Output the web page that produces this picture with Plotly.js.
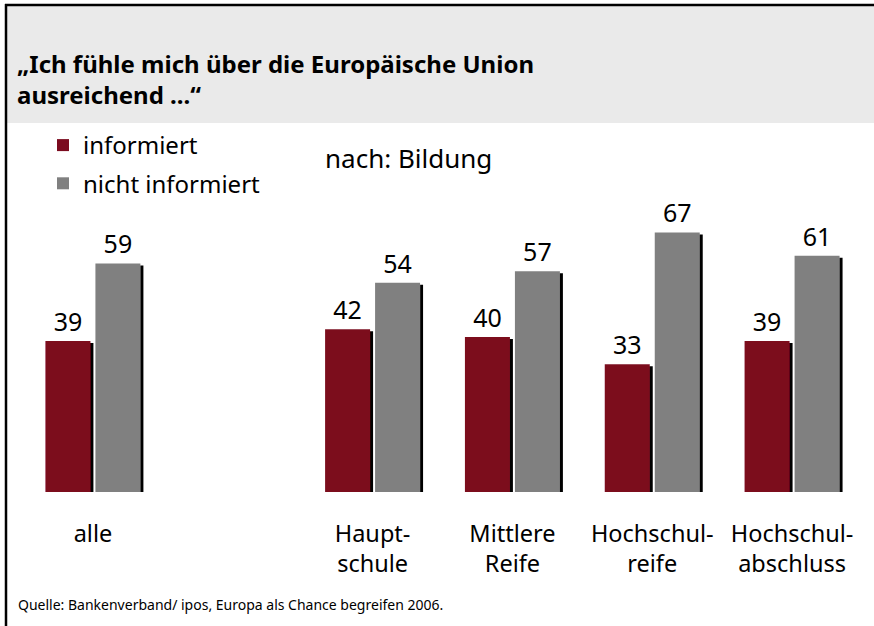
<!DOCTYPE html>
<html>
<head>
<meta charset="utf-8">
<script src="https://cdn.plot.ly/plotly-3.0.1.min.js"></script>
<style>
  html, body { margin: 0; padding: 0; background: #ffffff; }
  #chart { width: 874px; height: 626px; }
</style>
</head>
<body>
<svg width="0" height="0" style="position:absolute">
  <defs>
    <filter id="barshadow" x="-20%" y="-20%" width="140%" height="140%">
      <feDropShadow dx="3" dy="2" stdDeviation="0" flood-color="#000000" flood-opacity="1"/>
    </filter>
  </defs>
</svg>
<div id="chart"></div>
<script>
// ---- data ----
const categories = ['alle', 'Haupt-<br>schule', 'Mittlere<br>Reife', 'Hochschul-<br>reife', 'Hochschul-<br>abschluss'];
const informiert = [39, 42, 40, 33, 39];
const nichtInformiert = [59, 54, 57, 67, 61];
const seriesNames = ['informiert', 'nicht informiert'];

const titleText = '„Ich fühle mich über die Europäische Union<br>ausreichend ...“';
const subtitleText = 'nach: Bildung';
const sourceText = 'Quelle: Bankenverband/ ipos, Europa als Chance begreifen 2006.';

// ---- layout helpers ----
const W = 874, H = 626;
const M = { l: 23, r: 12, t: 182, b: 134 };
const PW = W - M.l - M.r, PH = H - M.t - M.b;
const px = v => (v - M.l) / PW;          // pixel x -> paper x
const py = v => (H - M.b - v) / PH;      // pixel y -> paper y

const FONT = 'Noto Sans, Open Sans, DejaVu Sans, sans-serif';
const RED = '#7b0b1f';
const GREY = '#808080';

const traces = [
  {
    type: 'bar', name: seriesNames[0], x: categories, y: informiert,
    marker: { color: RED }, text: informiert.map(String), textposition: 'outside',
    textfont: { family: FONT, size: 25, color: '#000000' }, cliponaxis: false,
    constraintext: 'none', legendgroup: 'a', hoverinfo: 'x+y+name'
  },
  {
    type: 'bar', name: seriesNames[1], x: categories, y: nichtInformiert,
    marker: { color: GREY }, text: nichtInformiert.map(String), textposition: 'outside',
    textfont: { family: FONT, size: 25, color: '#000000' }, cliponaxis: false,
    constraintext: 'none', legendgroup: 'b', hoverinfo: 'x+y+name'
  }
];

const layout = {
  width: W, height: H,
  margin: M,
  paper_bgcolor: '#ffffff', plot_bgcolor: 'rgba(0,0,0,0)',
  font: { family: FONT, size: 23, color: '#000000' },
  title: {
    text: titleText,
    font: { family: FONT, size: 24, color: '#000000', weight: 700 },
    x: 17 / W, xref: 'container', xanchor: 'left',
    y: 1 - 73 / H, yref: 'container', yanchor: 'top'
  },
  barmode: 'group', bargap: 0.285, bargroupgap: 0.1,
  xaxis: {
    type: 'category',
    categoryorder: 'array',
    categoryarray: [categories[0], ' '].concat(categories.slice(1)),
    showgrid: false, zeroline: false, showline: false, ticks: '',
    tickfont: { family: FONT, size: 23.5, color: '#000000' },
    ticklabelstandoff: 25, fixedrange: true
  },
  yaxis: {
    range: [0, 80], visible: false, showgrid: false, zeroline: false, fixedrange: true
  },
  showlegend: true,
  legend: {
    x: px(43), y: py(123), xanchor: 'left', yanchor: 'top',
    orientation: 'v', traceorder: 'grouped', tracegroupgap: 4,
    bgcolor: 'rgba(0,0,0,0)', font: { family: FONT, size: 24, color: '#000000' }
  },
  shapes: [
    { type: 'rect', xref: 'paper', yref: 'paper', layer: 'below',
      x0: px(7), x1: px(W), y0: py(123), y1: py(6),
      fillcolor: '#eaeaea', line: { width: 0 } },
    { type: 'line', xref: 'paper', yref: 'paper',
      x0: px(5), x1: px(W), y0: py(5), y1: py(5),
      line: { color: '#000000', width: 2.5 } },
    { type: 'line', xref: 'paper', yref: 'paper',
      x0: px(6), x1: px(6), y0: py(4), y1: py(H),
      line: { color: '#000000', width: 2.5 } }
  ],
  annotations: [
    { text: subtitleText, xref: 'paper', yref: 'paper', x: px(323), y: py(158),
      xanchor: 'left', yanchor: 'middle', showarrow: false,
      font: { family: FONT, size: 26, color: '#000000' } },
    { text: sourceText, xref: 'paper', yref: 'paper', x: px(16), y: py(604),
      xanchor: 'left', yanchor: 'middle', showarrow: false,
      font: { family: FONT, size: 14, color: '#000000' } }
  ]
};

Plotly.newPlot('chart', traces, layout, { displayModeBar: false, staticPlot: true }).then(gd => {
  gd.querySelectorAll('.barlayer .point path').forEach(p => {
    p.setAttribute('filter', 'url(#barshadow)');
  });
});
</script>
</body>
</html>
